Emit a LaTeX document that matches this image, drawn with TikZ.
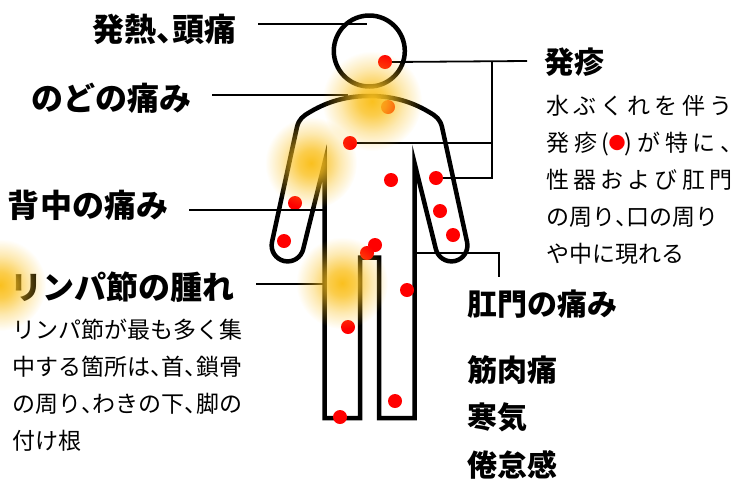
\documentclass[tikz,border=0pt]{standalone}
\usepackage{fontspec}
\newfontfamily\jp{Noto Sans CJK JP}
\usetikzlibrary{fadings}

% soft radial mask for the highlighted (glowing) areas
\pgfdeclareradialshading{glowmask}{\pgfpointorigin}{color(0bp)=(white); color(7bp)=(white!80!black); color(16bp)=(white!35!black); color(25bp)=(black); color(50bp)=(black)}
\pgfdeclarefading{glowfade}{\pgfuseshading{glowmask}}

\definecolor{glowgold}{RGB}{250,192,30}
\definecolor{dotred}{RGB}{255,0,0}
\definecolor{ink}{RGB}{0,0,0}

\newcommand\halfcomma{\makebox[0.5em][l]{、}}
\newcommand\rashdot{\raisebox{2.5pt}{\textcolor{dotred}{\fontsize{17}{17}\selectfont ●}}}

\begin{document}
\begin{tikzpicture}[x=1pt,y=-1pt,
  figline/.style={draw=ink, line width=4.5pt, line join=miter},
  lead/.style={draw=ink, line width=1.8pt},
  sym/.style={circle, fill=dotred, inner sep=0pt, minimum size=14pt},
  headbig/.style={inner sep=0pt, text=ink, font=\jp\bfseries\fontsize{32}{38}\selectfont},
  headsmall/.style={inner sep=0pt, text=ink, font=\jp\bfseries\fontsize{30}{36}\selectfont},
  body/.style={inner sep=0pt, align=left, text=ink, font=\jp\fontsize{23}{37}\selectfont},
  glow/.style={fill=glowgold, path fading=glowfade}]
\useasboundingbox (0,0) rectangle (735,480);

% ---- figure: head and body outline ----
\node[circle, draw=ink, line width=4.5pt, minimum size=71pt, inner sep=0pt] (head) at (369.3,51) {};
\draw[figline] (324.5,163) -- (324.5,418) -- (360,418) -- (360,257.5) -- (379,257.5) -- (379,418) -- (414.5,418) -- (414.5,163)
  -- (435.8,248.8) arc[start angle=167.7, end angle=-12.3, radius=16] -- (442,127)
  .. controls (440,119) and (436,116) .. (429,112)
  .. controls (409,100) and (389,96) .. (369.5,96)
  .. controls (350,96) and (330,100) .. (310,112)
  .. controls (303,116) and (299,119) .. (297,127)
  -- (272,242) arc[start angle=192.3, end angle=12.3, radius=16] -- cycle;

% ---- labels ----
\node[headbig] (fever) at (164,29) {発熱\halfcomma 頭痛};
\node[headbig] (throat) at (111,98) {のどの痛み};
\node[headbig] (back) at (88,205) {背中の痛み};
\node[headbig] (lymph) at (122,287) {リンパ節の腫れ};
\node[headsmall, anchor=west] (rash) at (544,62) {発疹};
\node[headsmall, anchor=west] (anus) at (467,304.5) {肛門の痛み};
\node[headsmall, anchor=west] (muscle) at (467,370) {筋肉痛};
\node[headsmall, anchor=west] (chill) at (467,417) {寒気};
\node[headsmall, anchor=west] (fatigue) at (467,464.5) {倦怠感};

\node[body, anchor=north west] (rashnote) at (546,95.5) {%
\makebox[186pt][l]{水\hfill ぶ\hfill く\hfill れ\hfill を\hfill 伴\hfill う}\\
\makebox[186pt][l]{発\hfill 疹\hfill(\kern-1pt\rashdot\kern-1pt)\hfill が\hfill 特\hfill に\hfill\halfcomma}\\
\makebox[186pt][l]{性\hfill 器\hfill お\hfill よ\hfill び\hfill 肛\hfill 門}\\
の周り\halfcomma 口の周り\\
や中に現れる};

\node[body, anchor=north west] (lymphnote) at (12,318.5) {%
リンパ節が最も多く集\\
中する箇所は\halfcomma 首\halfcomma 鎖骨\\
の周り\halfcomma わきの下\halfcomma 脚の\\
付け根};

% ---- connector end points on the figure ----
\coordinate (feverEnd) at (367,24);
\coordinate (throatEnd) at (348,95);
\coordinate (backEnd) at (325,210);
\coordinate (lymphEnd) at (326,284);
\coordinate (rashEnd) at (527,61);
\coordinate (rashBar) at (492,61);
\coordinate (anusStart) at (414.5,253);
\coordinate (anusEnd) at (499,277);

% ---- red rash marks ----
\node[sym] (d1) at (385,62) {};
\node[sym] (d2) at (388,107) {};
\node[sym] (d3) at (350,143) {};
\node[sym] (d4) at (391,180) {};
\node[sym] (d5) at (436,178) {};
\node[sym] (d6) at (440,211) {};
\node[sym] (d7) at (453,235) {};
\node[sym] (d8) at (295,203) {};
\node[sym] (d9) at (284,241) {};
\node[sym] (d10) at (375,245) {};
\node[sym] (d11) at (367,253) {};
\node[sym] (d12) at (407,290) {};
\node[sym] (d13) at (348,327) {};
\node[sym] (d14) at (395,401) {};
\node[sym] (d15) at (340,417) {};

% ---- connectors ----
\draw[lead] ([xshift=22pt]fever.east |- feverEnd) -- (feverEnd);
\draw[lead] ([xshift=21pt]throat.east |- throatEnd) -- (throatEnd);
\draw[lead] ([xshift=21pt]back.east |- backEnd) -- (backEnd);
\draw[lead] ([xshift=22pt]lymph.east |- lymphEnd) -- (lymphEnd);
\draw[lead] (d1.east) -- (rashEnd);
\draw[lead] (rashBar) |- (d5.east);
\draw[lead] (d3.east) -| (rashBar);
\draw[lead] (anusStart) -| (anusEnd);

% ---- glowing areas ----
\fill[glow] (372,101) circle[radius=50];
\fill[glow] (311,163) circle[radius=46];
\fill[glow] (342,283) circle[radius=46];
\fill[glow] (0,285) circle[radius=46];
\end{tikzpicture}
\end{document}
